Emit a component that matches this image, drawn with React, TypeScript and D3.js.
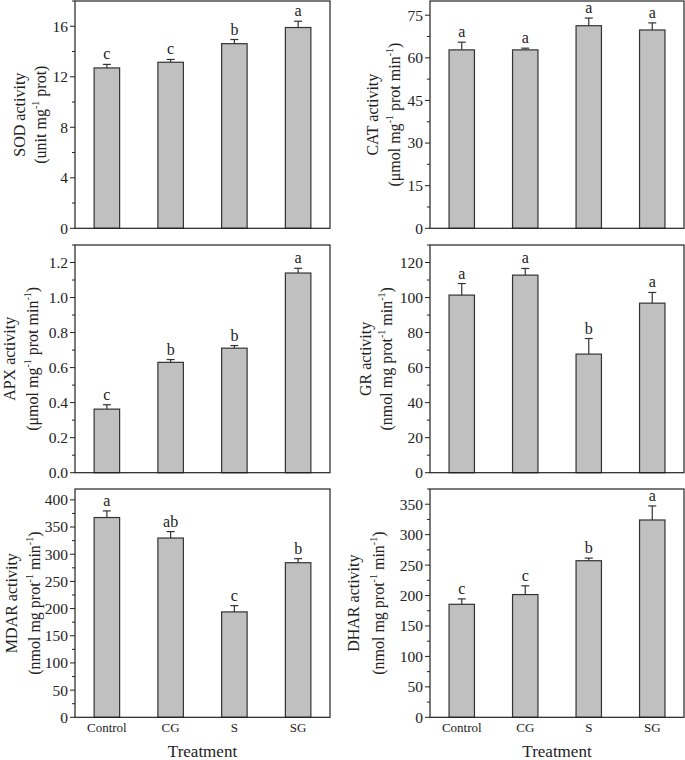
import React from "react";
import * as d3 from "d3";

const categories = ["Control", "CG", "S", "SG"];

const sodMean = [12.7, 13.15, 14.62, 15.9];
const sodErr = [0.28, 0.22, 0.33, 0.5];
const sodLetters = ["c", "c", "b", "a"];

const catMean = [62.8, 62.8, 71.3, 69.8];
const catErr = [2.7, 0.6, 2.7, 2.5];
const catLetters = ["a", "a", "a", "a"];

const apxMean = [0.363, 0.63, 0.711, 1.14];
const apxErr = [0.025, 0.016, 0.015, 0.027];
const apxLetters = ["c", "b", "b", "a"];

const grMean = [101.4, 112.8, 67.7, 96.8];
const grErr = [6.6, 3.8, 8.9, 6.1];
const grLetters = ["a", "a", "b", "a"];

const mdarMean = [367.5, 329.8, 193.9, 284.4];
const mdarErr = [12.2, 11.8, 11.6, 7.4];
const mdarLetters = ["a", "ab", "c", "b"];

const dharMean = [185.6, 201.6, 257.2, 324.1];
const dharErr = [8.9, 14.4, 4.3, 23.1];
const dharLetters = ["c", "c", "b", "a"];

const FONT = "'Liberation Serif', 'Times New Roman', serif";

type Seg = { t: string; sup?: boolean };

type PanelProps = {
  x0: number; x1: number; y0: number; y1: number;
  yMax: number; major: number; minor: number; fmt: (v: number) => string;
  means: number[]; errs: number[]; letters: string[];
  line1: string; line2: Seg[]; off1: number; off2: number;
  showX: boolean;
};

function Panel(p: PanelProps) {
  const x = d3.scaleBand<string>().domain(categories).range([p.x0, p.x1]).paddingInner(0.6).paddingOuter(0.3);
  const y = d3.scaleLinear().domain([0, p.yMax]).range([p.y1, p.y0]);
  const nMaj = Math.floor(p.yMax / p.major + 1e-6);
  const majors = d3.range(0, nMaj + 1).map((i) => i * p.major);
  const nMin = Math.floor(p.yMax / p.minor + 1e-6);
  const minors = d3.range(0, nMin + 1).map((i) => i * p.minor).filter((v) => Math.abs(v / p.major - Math.round(v / p.major)) > 1e-6);
  const cy = (p.y0 + p.y1) / 2;
  const bw = x.bandwidth();
  return (
    <g>
      {categories.map((c, i) => {
        const cx = (x(c) as number) + bw / 2;
        const top = y(p.means[i]);
        const et = y(p.means[i] + p.errs[i]);
        return (
          <g key={c}>
            <line x1={cx} x2={cx} y1={top} y2={et} stroke="#333" strokeWidth={1.2} />
            <line x1={cx - 4} x2={cx + 4} y1={et} y2={et} stroke="#333" strokeWidth={1.2} />
            <rect x={x(c)} y={top} width={bw} height={p.y1 - top} fill="#c0c0c0" stroke="#333" strokeWidth={1.2} />
            <text x={cx} y={et - 5} textAnchor="middle" fontSize={16} fontFamily={FONT} fill="#222">{p.letters[i]}</text>
          </g>
        );
      })}
      <rect x={p.x0} y={p.y0} width={p.x1 - p.x0} height={p.y1 - p.y0} fill="none" stroke="#222" strokeWidth={1.2} />
      {majors.map((v) => (
        <g key={"M" + v}>
          <line x1={p.x0 - 5} x2={p.x0} y1={y(v)} y2={y(v)} stroke="#222" strokeWidth={1} />
          <text x={p.x0 - 7} y={y(v)} dy="0.35em" textAnchor="end" fontSize={15.5} fontFamily={FONT} fill="#222">{p.fmt(v)}</text>
        </g>
      ))}
      {minors.map((v) => (
        <line key={"m" + v} x1={p.x0 - 3} x2={p.x0} y1={y(v)} y2={y(v)} stroke="#222" strokeWidth={1} />
      ))}
      <text transform={`translate(${p.x0 + p.off1},${cy}) rotate(-90)`} textAnchor="middle" fontSize={16} fontFamily={FONT} fill="#222">{p.line1}</text>
      <text transform={`translate(${p.x0 + p.off2},${cy}) rotate(-90)`} textAnchor="middle" fontSize={16} fontFamily={FONT} fill="#222">
        {p.line2.map((s, i) =>
          s.sup ? (
            <tspan key={i} fontSize={10} dy={-7}>{s.t}</tspan>
          ) : (
            <tspan key={i} dy={i > 0 && p.line2[i - 1].sup ? 7 : 0}>{s.t}</tspan>
          )
        )}
      </text>
      {p.showX && (
        <g>
          {categories.map((c) => (
            <text key={c} x={(x(c) as number) + bw / 2} y={732} textAnchor="middle" fontSize={13} fontFamily={FONT} fill="#222">{c}</text>
          ))}
          <text x={(p.x0 + p.x1) / 2} y={757} textAnchor="middle" fontSize={17} fontFamily={FONT} fill="#222">Treatment</text>
        </g>
      )}
    </g>
  );
}

const fInt = d3.format("d");
const f1 = d3.format(".1f");

export default function App() {
  const L = [75, 330];
  const R = [430, 684];
  const rows = [[1, 228.3], [245, 472.7], [489, 717.3]];
  const umol: Seg[] = [{ t: "(\u03bcmol mg" }, { t: "-1", sup: true }, { t: " prot min" }, { t: "-1", sup: true }, { t: ")" }];
  const nmol: Seg[] = [{ t: "(nmol mg prot" }, { t: "-1", sup: true }, { t: " min" }, { t: "-1", sup: true }, { t: ")" }];
  return (
    <div style={{ position: "absolute", left: 0, top: 0 }}>
      <svg width={685} height={760} style={{ display: "block", background: "#fff" }}>
        <Panel x0={L[0]} x1={L[1]} y0={rows[0][0]} y1={rows[0][1]} yMax={18} major={4} minor={2} fmt={fInt}
          means={sodMean} errs={sodErr} letters={sodLetters} line1="SOD activity"
          line2={[{ t: "(unit mg" }, { t: "-1", sup: true }, { t: " prot)" }]} off1={-50} off2={-29} showX={false} />
        <Panel x0={R[0]} x1={R[1]} y0={rows[0][0]} y1={rows[0][1]} yMax={80} major={15} minor={7.5} fmt={fInt}
          means={catMean} errs={catErr} letters={catLetters} line1="CAT activity"
          line2={umol} off1={-52} off2={-30} showX={false} />
        <Panel x0={L[0]} x1={L[1]} y0={rows[1][0]} y1={rows[1][1]} yMax={1.3} major={0.2} minor={0.1} fmt={f1}
          means={apxMean} errs={apxErr} letters={apxLetters} line1="APX activity"
          line2={umol} off1={-60} off2={-37} showX={false} />
        <Panel x0={R[0]} x1={R[1]} y0={rows[1][0]} y1={rows[1][1]} yMax={130} major={20} minor={10} fmt={fInt}
          means={grMean} errs={grErr} letters={grLetters} line1="GR activity"
          line2={nmol} off1={-59} off2={-38} showX={false} />
        <Panel x0={L[0]} x1={L[1]} y0={rows[2][0]} y1={rows[2][1]} yMax={420} major={50} minor={25} fmt={fInt}
          means={mdarMean} errs={mdarErr} letters={mdarLetters} line1="MDAR activity"
          line2={nmol} off1={-58} off2={-35} showX={true} />
        <Panel x0={R[0]} x1={R[1]} y0={rows[2][0]} y1={rows[2][1]} yMax={375} major={50} minor={25} fmt={fInt}
          means={dharMean} errs={dharErr} letters={dharLetters} line1="DHAR activity"
          line2={nmol} off1={-71} off2={-46} showX={true} />
      </svg>
    </div>
  );
}
